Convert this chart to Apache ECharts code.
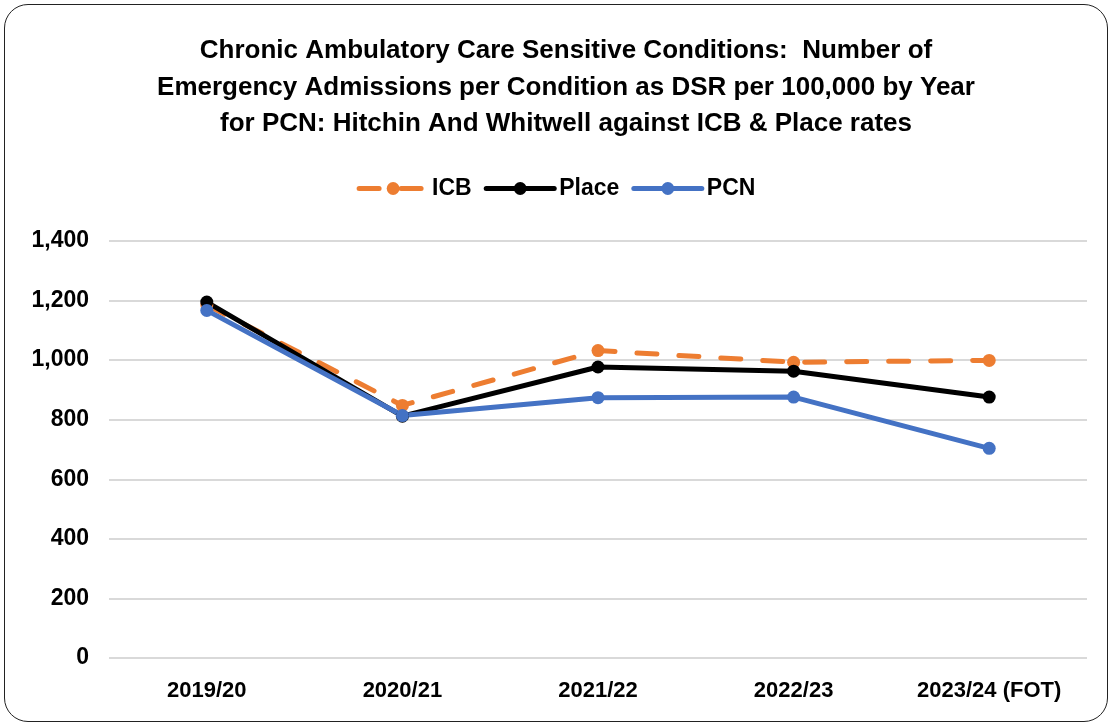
<!DOCTYPE html>
<html>
<head>
<meta charset="utf-8">
<script src="https://cdn.jsdelivr.net/npm/echarts@6/dist/echarts.min.js"></script>
<style>
  html, body { margin: 0; padding: 0; background: #fff; }
  #frame {
    position: absolute; left: 4px; top: 4px; width: 1104px; height: 718px;
    border: 1.5px solid #222; border-radius: 24px; box-sizing: border-box; overflow: hidden;
  }
  #chart { width: 1110px; height: 725px; position: absolute; left: -4px; top: -4px; }
</style>
</head>
<body>
<div id="frame"><div id="chart"></div></div>
<script>
const years = ['2019/20', '2020/21', '2021/22', '2022/23', '2023/24 (FOT)']
const icb = [1185, 848, 1032, 993, 999]
const place = [1195, 812, 977, 963, 876]
const pcn = [1167, 814, 874, 876, 704]
const yTicks = [0, 200, 400, 600, 800, 1000, 1200, 1400]

const font = '"Liberation Sans", Arial, sans-serif'
const chart = echarts.init(document.getElementById('chart'))

function lineSeries(name, data, color, dashed) {
  return {
    name,
    type: 'line',
    data,
    symbol: 'circle',
    symbolSize: 13,
    itemStyle: { color },
    lineStyle: { color, width: 5, type: dashed ? [20, 22] : 'solid', cap: 'round' },
    emphasis: { disabled: true }
  }
}

chart.setOption({
  animation: false,
  title: {
    text: 'Chronic Ambulatory Care Sensitive Conditions:  Number of\nEmergency Admissions per Condition as DSR per 100,000 by Year\nfor PCN: Hitchin And Whitwell against ICB & Place rates',
    left: 560,
    textAlign: 'center',
    top: 27,
    textStyle: { fontFamily: font, fontSize: 26, fontWeight: 'bold', color: '#000', lineHeight: 36.5 }
  },
  legend: {
    top: 171,
    left: 'center',
    itemWidth: 68,
    itemHeight: 16,
    itemGap: 12,
    lineStyle: { width: 5 },
    textStyle: { fontFamily: font, fontSize: 23, fontWeight: 'bold', color: '#000' },
    data: ['ICB', 'Place', 'PCN']
  },
  grid: { left: 108, right: 24, top: 240, bottom: 68 },
  xAxis: {
    type: 'category',
    data: years,
    axisLine: { show: false },
    axisTick: { show: false },
    axisLabel: {
      interval: 0, hideOverlap: false,
      fontFamily: font, fontSize: 22, fontWeight: 'bold', color: '#000', margin: 22
    }
  },
  yAxis: {
    type: 'value',
    min: yTicks[0],
    max: yTicks[yTicks.length - 1],
    interval: 200,
    axisLabel: {
      fontFamily: font, fontSize: 23, fontWeight: 'bold', color: '#000', margin: 20,
      formatter: v => v.toLocaleString('en-GB')
    },
    splitLine: { lineStyle: { color: '#d9d9d9', width: 2 } }
  },
  series: [
    lineSeries('ICB', icb, '#ed7d31', true),
    lineSeries('Place', place, '#000000', false),
    lineSeries('PCN', pcn, '#4472c4', false)
  ]
})
</script>
</body>
</html>
